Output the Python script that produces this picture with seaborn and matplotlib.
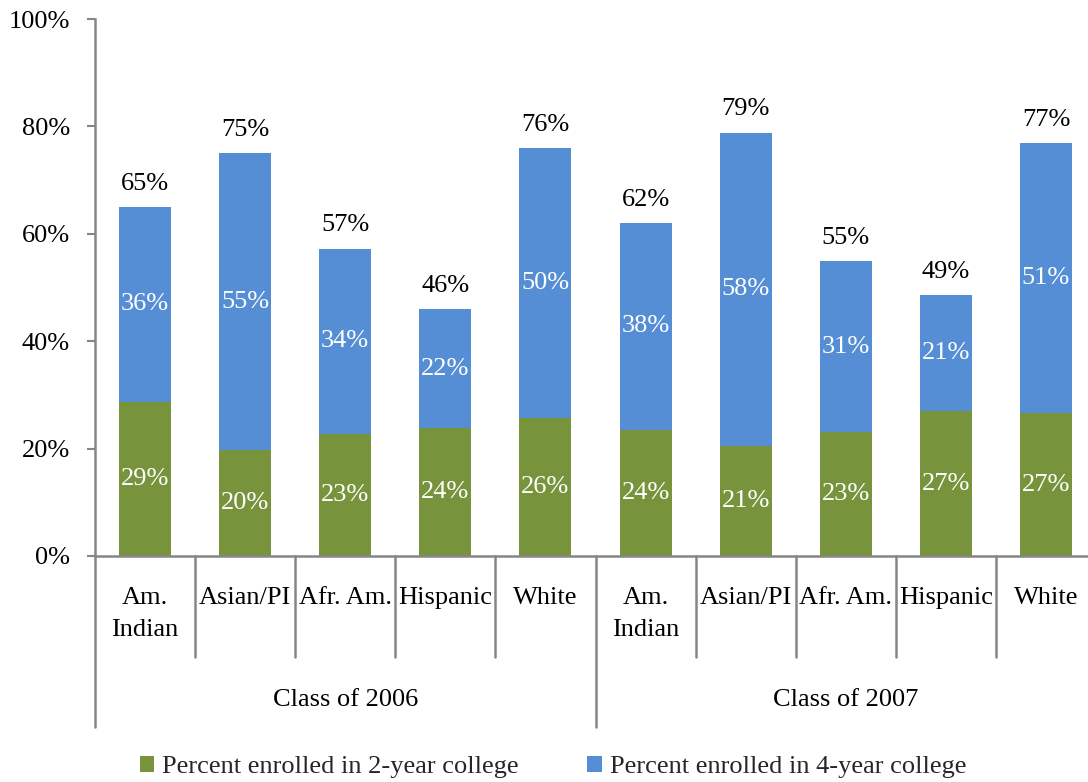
import matplotlib
matplotlib.use("Agg")
import matplotlib.pyplot as plt
import matplotlib.transforms as mtransforms
from matplotlib.patches import Patch
import seaborn as sns
import pandas as pd

# ---- data ----
groups = ["Class of 2006", "Class of 2007"]
categories = ["Am.\nIndian", "Asian/PI", "Afr. Am.", "Hispanic", "White"]
two_year = [28.7, 19.7, 22.7, 23.8, 25.7, 23.5, 20.5, 23.1, 27.0, 26.6]
four_year = [36.3, 55.3, 34.5, 22.2, 50.3, 38.5, 58.3, 31.8, 21.6, 50.3]
two_labels = ["29%", "20%", "23%", "24%", "26%", "24%", "21%", "23%", "27%", "27%"]
four_labels = ["36%", "55%", "34%", "22%", "50%", "38%", "58%", "31%", "21%", "51%"]
total_labels = ["65%", "75%", "57%", "46%", "76%", "62%", "79%", "55%", "49%", "77%"]
y_ticks = [0, 20, 40, 60, 80, 100]
legend_labels = ["Percent enrolled in 2-year college", "Percent enrolled in 4-year college"]

green = "#77933C"
blue = "#558ED5"
gray = "#868686"
FS = 19

sns.set_theme(style="white")
plt.rcParams["font.family"] = ["Liberation Serif", "DejaVu Serif"]

keys = [f"{g}|{c}" for g in groups for c in categories]
df = pd.DataFrame({
    "key": keys,
    "two": two_year,
    "four": four_year,
})
df["total"] = df["two"] + df["four"]

fig = plt.figure(figsize=(10.88, 7.82), dpi=100)
W, H = 1088, 782
ax = fig.add_axes([95 / W, (H - 556) / H, (1096 - 95) / W, (556 - 19) / H])

sns.barplot(data=df, x="key", y="total", order=keys, color=blue, width=0.52,
            saturation=1, ax=ax, edgecolor="none")
sns.barplot(data=df, x="key", y="two", order=keys, color=green, width=0.52,
            saturation=1, ax=ax, edgecolor="none")

ax.set_xlim(-0.5, 9.5)
ax.set_ylim(0, 100)
ax.set_yticks(y_ticks)
ax.set_yticklabels([f"{t}%" for t in y_ticks], fontsize=FS, color="black")
ax.set_xticks([])
ax.set_xlabel("")
ax.set_ylabel("")
for s in ["top", "right"]:
    ax.spines[s].set_visible(False)
for s in ["left", "bottom"]:
    ax.spines[s].set_color(gray)
    ax.spines[s].set_linewidth(1.8)
ax.tick_params(axis="y", direction="out", length=6, width=1.5, color=gray, pad=12, left=True)

# value labels
for i in range(len(keys)):
    t = two_year[i]
    f = four_year[i]
    ax.text(i, t / 2, two_labels[i], ha="center", va="center", fontsize=FS, color="white")
    ax.text(i, t + f / 2, four_labels[i], ha="center", va="center", fontsize=FS, color="white")
    ax.text(i, t + f + 2.3, total_labels[i], ha="center", va="bottom", fontsize=FS, color="black")

# multi-level x axis
trans = mtransforms.blended_transform_factory(ax.transData, ax.transAxes)
n_cat = len(categories)
for i in range(len(keys)):
    x = i - 0.5
    y1 = -0.318 if i % n_cat == 0 else -0.188
    ax.plot([x, x], [0, y1], transform=trans, color=gray, lw=1.8, clip_on=False)

line_y = [-0.078, -0.138]
for gi, g in enumerate(groups):
    for ci, c in enumerate(categories):
        i = gi * n_cat + ci
        for li, part in enumerate(c.split("\n")):
            ax.text(i, line_y[li], part, transform=trans, ha="center", va="center",
                    fontsize=FS, color="black")
    ax.text(gi * n_cat + (n_cat - 1) / 2, -0.268, g, transform=trans, ha="center",
            va="center", fontsize=FS, color="black")

handles = [Patch(facecolor=green, edgecolor="none"), Patch(facecolor=blue, edgecolor="none")]
fig.legend(handles, legend_labels, loc="center", bbox_to_anchor=(553 / W, 1 - 767 / H),
           ncol=2, frameon=False, fontsize=FS, handlelength=0.55, handleheight=0.55,
           handletextpad=0.3, columnspacing=2.6)

fig.savefig("out.png", dpi=100)
